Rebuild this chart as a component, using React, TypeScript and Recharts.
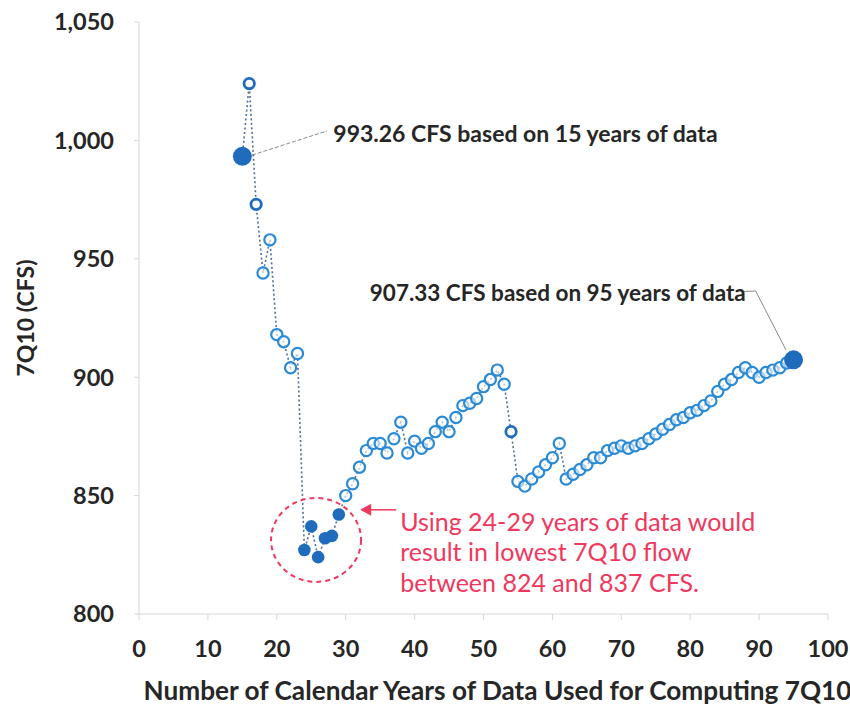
import {
  ComposedChart, Line, XAxis, YAxis, ReferenceDot, ReferenceLine,
} from 'recharts'

const YEARS = [
  15, 16, 17, 18, 19, 20, 21, 22, 23, 24, 25, 26, 27, 28, 29, 30, 31, 32, 33, 34,
  35, 36, 37, 38, 39, 40, 41, 42, 43, 44, 45, 46, 47, 48, 49, 50, 51, 52, 53, 54,
  55, 56, 57, 58, 59, 60, 61, 62, 63, 64, 65, 66, 67, 68, 69, 70, 71, 72, 73, 74,
  75, 76, 77, 78, 79, 80, 81, 82, 83, 84, 85, 86, 87, 88, 89, 90, 91, 92, 93, 94, 95,
]

const CFS = [
  993.26, 1024, 973, 944, 958, 918, 915, 904, 910, 827, 837, 824, 832, 833, 842, 850, 855, 862, 869, 872,
  872, 868, 874, 881, 868, 873, 870, 872, 877, 881, 877, 883, 888, 889, 891, 896, 899, 903, 897, 877,
  856, 854, 857, 860, 863, 866, 872, 857, 859, 861, 863, 866, 866, 869, 870, 871, 870, 871, 872, 874,
  876, 878, 880, 882, 883, 885, 886, 888, 890, 894, 897, 899, 902, 904, 902, 900, 902, 903, 904, 906, 907.33,
]

const X_TICKS = [0, 10, 20, 30, 40, 50, 60, 70, 80, 90, 100]
const Y_TICKS = [800, 850, 900, 950, 1000, 1050]

// which years get special markers
const BIG_YEARS = [15, 95]
const FILLED_YEARS = [24, 25, 26, 27, 28, 29]
const DARK_YEARS = [16, 17, 54]

const NOTE_15 = '993.26 CFS based on 15 years of data'
const NOTE_95 = '907.33 CFS based on 95 years of data'
const NOTE_LOW = ['Using 24-29 years of data would', 'result in lowest 7Q10 flow', 'between 824 and 837 CFS.']

const data = YEARS.map((yr, i) => ({ yr, cfs: CFS[i] }))

const FONT = 'Lato, "Open Sans", sans-serif'
const TEXT = '#262626'
const BLUE = '#2a8ad6'
const DARK_BLUE = '#1f6cbd'
const RED = '#f0385e'
const AXIS = '#d6d6d6'

const tickStyle = { fontFamily: FONT, fontSize: 23.5, fontWeight: 700, fill: TEXT }

function Marker(props: any) {
  const { cx, cy, payload } = props
  if (cx == null || cy == null) return null
  const yr = payload.yr
  if (BIG_YEARS.includes(yr)) return <circle key={yr} cx={cx} cy={cy} r={9.5} fill={DARK_BLUE} />
  if (FILLED_YEARS.includes(yr)) return <circle key={yr} cx={cx} cy={cy} r={6.3} fill={DARK_BLUE} />
  if (DARK_YEARS.includes(yr))
    return <circle key={yr} cx={cx} cy={cy} r={5.2} fill="#fff" stroke={DARK_BLUE} strokeWidth={2.8} />
  return <circle key={yr} cx={cx} cy={cy} r={5.6} fill="#fff" fillOpacity={0.6} stroke={BLUE} strokeWidth={2.2} />
}

const noteText = (lines: string[], color: string, weight: number, size: number, gap: number) =>
  (p: any) => (
    <text x={p.cx} y={p.cy} fill={color} fontFamily={FONT} fontWeight={weight} fontSize={size} dominantBaseline="central">
      {lines.map((l, i) => <tspan key={i} x={p.cx} dy={i === 0 ? 0 : gap}>{l}</tspan>)}
    </text>
  )

const lowCircle = (p: any) => (
  <ellipse cx={p.cx} cy={p.cy} rx={45} ry={42} fill="none" stroke={RED} strokeWidth={2} strokeDasharray="5 4" />
)

const redArrow = (p: any) => (
  <g>
    <line x1={p.cx + 36} y1={p.cy} x2={p.cx + 8} y2={p.cy} stroke={RED} strokeWidth={1.5} />
    <path d={`M${p.cx},${p.cy} L${p.cx + 11},${p.cy - 6} L${p.cx + 11},${p.cy + 6} Z`} fill={RED} />
  </g>
)

export default function App() {
  return (
    <div style={{ width: 850, height: 709, background: '#fff' }}>
      <style>{'body{margin:0}'}</style>
      <ComposedChart width={850} height={709} data={data} margin={{ top: 22, right: 22, bottom: 0, left: 0 }}>
        <XAxis
          dataKey="yr" type="number" domain={[0, 100]} ticks={X_TICKS} interval={0}
          height={95} tick={tickStyle} tickSize={6} tickMargin={20}
          axisLine={{ stroke: AXIS }} tickLine={{ stroke: AXIS }}
          label={{ value: 'Number of Calendar Years of Data Used for Computing 7Q10', position: 'insideBottom', offset: 9, dx: 14,
            style: { fontFamily: FONT, fontSize: 26.2, fontWeight: 700, fill: TEXT } }}
        />
        <YAxis
          type="number" domain={[800, 1050]} ticks={Y_TICKS} interval={0} width={139}
          tick={tickStyle} tickSize={5} tickMargin={20}
          tickFormatter={(v: number) => v.toLocaleString('en-US')}
          axisLine={{ stroke: AXIS }} tickLine={{ stroke: AXIS }}
          label={{ value: '7Q10 (CFS)', angle: -90, position: 'insideLeft', offset: 26,
            style: { textAnchor: 'middle', fontFamily: FONT, fontSize: 23, fontWeight: 700, fill: TEXT } }}
        />

        <ReferenceLine segment={[{ x: 16.4, y: 993.8 }, { x: 27.3, y: 1004 }]} stroke="#8a8a8a" strokeWidth={1} strokeDasharray="4 2" />
        <ReferenceLine segment={[{ x: 87.6, y: 936.2 }, { x: 89.5, y: 936.4 }]} stroke="#8a8a8a" strokeWidth={1} />
        <ReferenceLine segment={[{ x: 89.5, y: 936.4 }, { x: 93.9, y: 911.5 }]} stroke="#8a8a8a" strokeWidth={1} />

        <Line
          dataKey="cfs" type="linear" stroke="#4f6f98" strokeWidth={1.6} strokeDasharray="2 2.5"
          dot={Marker} activeDot={false} isAnimationActive={false}
        />

        <ReferenceDot x={25.7} y={831.3} r={0} shape={lowCircle} />
        <ReferenceDot x={32.1} y={844} r={0} shape={redArrow} />
        <ReferenceDot x={28.2} y={1003.3} r={0} shape={noteText([NOTE_15], TEXT, 700, 23, 0)} />
        <ReferenceDot x={33.5} y={936} r={0} shape={noteText([NOTE_95], TEXT, 700, 22.5, 0)} />
        <ReferenceDot x={37.9} y={839.3} r={0} shape={noteText(NOTE_LOW, RED, 400, 25, 30.5)} />
      </ComposedChart>
    </div>
  )
}
